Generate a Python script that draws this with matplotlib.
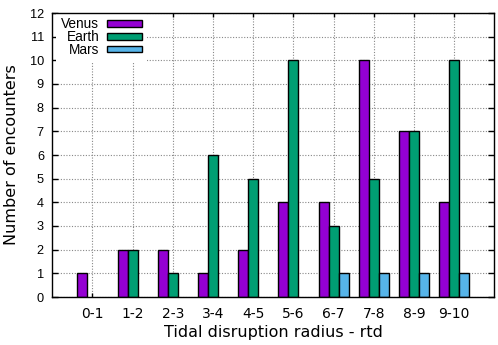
import matplotlib
matplotlib.use("Agg")
import matplotlib.pyplot as plt
import matplotlib.transforms as mtransforms
import numpy as np

categories = ["0-1", "1-2", "2-3", "3-4", "4-5", "5-6", "6-7", "7-8", "8-9", "9-10"]
venus = [1, 2, 2, 1, 2, 4, 4, 10, 7, 4]
earth = [0, 2, 1, 6, 5, 10, 3, 5, 7, 10]
mars = [0, 0, 0, 0, 0, 0, 1, 1, 1, 1]
series_names = ["Venus", "Earth", "Mars"]
colors = ["#9400D3", "#009E73", "#56B4E9"]

fig = plt.figure(figsize=(4.98, 3.45), dpi=100)
ax = fig.add_axes([52.3 / 498, 48 / 345, (494.3 - 52.3) / 498, (297 - 13) / 345])

x = np.arange(len(categories))
w = 0.25
containers = []
for i, (vals, name, c) in enumerate(zip([venus, earth, mars], series_names, colors)):
    bc = ax.bar(x + (i - 1) * w, vals, width=w, color=c, edgecolor="black",
                linewidth=1.0, label=name, zorder=3)
    containers.append((bc, vals))

ax.set_xlim(-1, 10)
ax.set_ylim(0, 12)
ax.set_yticks(range(0, 13))
ax.set_xticks(x)
ax.set_xticklabels(categories, family="DejaVu Sans", fontsize=10)
shift = mtransforms.ScaledTranslation(-3 / 100, 0, fig.dpi_scale_trans)
for lab in ax.get_xticklabels():
    lab.set_transform(lab.get_transform() + shift)
for lab in ax.get_yticklabels():
    lab.set_family("Liberation Sans")
    lab.set_fontsize(9.2)

ax.grid(True, color="#888888", linestyle=(0, (1, 1.5)), linewidth=0.8, zorder=0)
ax.tick_params(axis="y", direction="in", length=4, width=1, right=True, pad=6)
ax.tick_params(axis="x", direction="in", length=3, width=1, top=True, pad=7)
for s in ax.spines.values():
    s.set_linewidth(1.0)
    s.set_zorder(5)

ax.set_ylabel("Number of encounters", family="DejaVu Sans", fontsize=11.5, labelpad=8)
ax.set_xlabel("Tidal disruption radius - rtd", family="DejaVu Sans", fontsize=11.5, labelpad=3)

leg = ax.legend(loc="upper left", bbox_to_anchor=(0.0, 1.016), markerfirst=False,
                frameon=True, fancybox=False, framealpha=1.0, edgecolor="white",
                facecolor="white", handlelength=2.6, handleheight=0.4,
                handletextpad=0.55, labelspacing=-0.09, borderpad=0.35,
                borderaxespad=0.3, prop={"family": "Liberation Sans", "size": 9.8})
leg.get_frame().set_linewidth(0)
leg.set_zorder(4)

# hide outlines of zero-height bars (gnuplot draws nothing for them)
for bc, vals in containers:
    for patch, v in zip(bc.patches, vals):
        if v == 0:
            patch.set_linewidth(0)

fig.savefig("out.png", dpi=100)
